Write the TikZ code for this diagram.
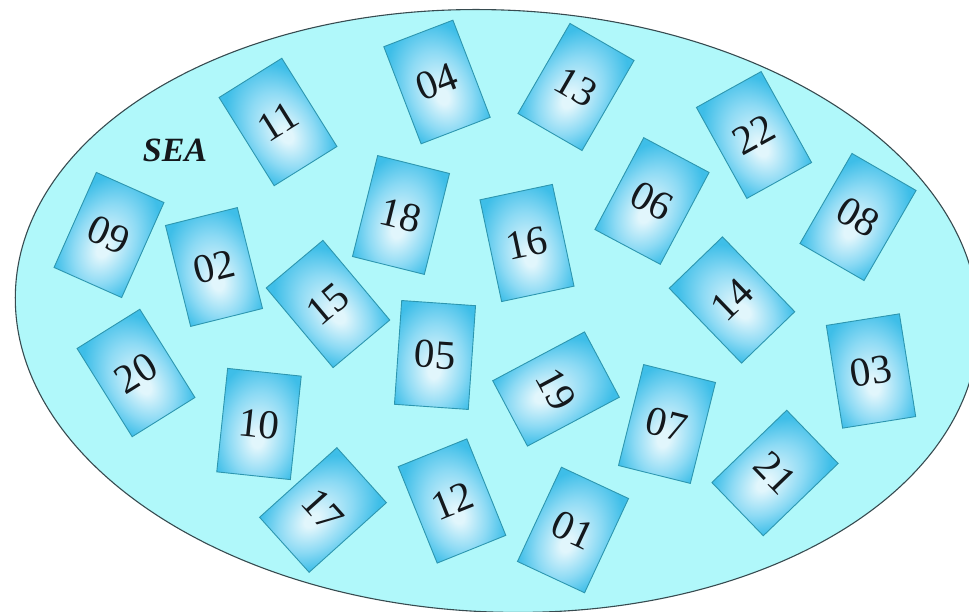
\documentclass[tikz,border=0pt]{standalone}
\usepackage{fontspec}
\setmainfont{Liberation Serif}
\definecolor{sea}{RGB}{176,248,250}
\definecolor{seaedge}{RGB}{55,75,80}
\definecolor{carddark}{RGB}{62,190,232}
\definecolor{cardmid}{RGB}{140,218,244}
\definecolor{cardlight}{RGB}{225,246,252}
\definecolor{cardedge}{RGB}{45,150,175}
\definecolor{inktext}{RGB}{20,24,28}
\pgfdeclareradialshading{cardshade}{\pgfpoint{0bp}{-8bp}}{color(0bp)=(cardlight); color(4bp)=(cardlight); color(20bp)=(cardmid); color(33bp)=(carddark); color(50bp)=(carddark)}
\tikzset{
  cardbox/.style={draw=cardedge, line width=0.9pt, minimum width=74pt, minimum height=104pt,
    inner sep=0pt, shading=cardshade, text=inktext, font=\fontsize{41}{41}\selectfont},
  seafill/.style={fill=sea, draw=seaedge, line width=1.1pt},
  sealabel/.style={text=inktext, font=\fontsize{34}{34}\selectfont\bfseries\itshape}
}
\newcommand\mycard[5]{%
  \begin{scope}[transform canvas={shift={(#2,#3)},rotate=#4}]
    \node[cardbox] (#1) at (0,0) {#5};
  \end{scope}}
\begin{document}
\begin{tikzpicture}[x=1pt,y=1pt]
  \useasboundingbox (0,0) rectangle (969,612);
  \clip (0,0) rectangle (969,612);
  \path[seafill, rotate around={-2.5:(497,301)}] (497,301) ellipse [x radius=482, y radius=301];
  \node[sealabel] (sea) at (175,462) {SEA};
  \mycard{c04}{437}{530}{21}{04}
  \mycard{c11}{278}{490}{32}{11}
  \mycard{c13}{576}{525}{-30}{13}
  \mycard{c22}{754}{477}{29}{22}
  \mycard{c09}{109}{377}{-24}{09}
  \mycard{c02}{214}{345}{14}{02}
  \mycard{c18}{401}{397}{-14}{18}
  \mycard{c16}{527}{369}{12}{16}
  \mycard{c06}{652}{411}{-28}{06}
  \mycard{c08}{858}{395}{-30}{08}
  \mycard{c15}{328}{308}{40}{15}
  \mycard{c05}{435}{257}{-4}{05}
  \mycard{c14}{732}{312}{44}{14}
  \mycard{c20}{136}{239}{32}{20}
  \mycard{c10}{259}{188}{-6}{10}
  \mycard{c19}{556}{223}{-62}{19}
  \mycard{c07}{667}{188}{-14}{07}
  \mycard{c03}{871}{241}{9}{03}
  \mycard{c17}{323}{102}{-48}{17}
  \mycard{c12}{452}{111}{22}{12}
  \mycard{c01}{573}{82}{-25}{01}
  \mycard{c21}{775}{139}{-46}{21}
\end{tikzpicture}
\end{document}
